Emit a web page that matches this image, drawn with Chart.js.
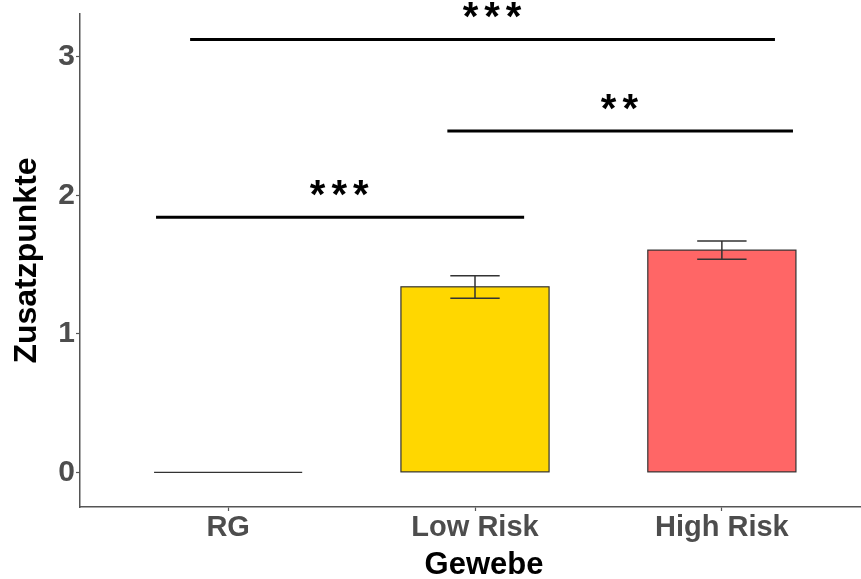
<!DOCTYPE html>
<html>
<head>
<meta charset="utf-8">
<script src="https://cdn.jsdelivr.net/npm/chart.js@4/dist/chart.umd.min.js"></script>
<style>
  html, body { margin: 0; padding: 0; background: #fff; overflow: hidden; }
  #wrap { width: 880px; height: 579px; }
</style>
</head>
<body>
<div id="wrap"><canvas id="chart"></canvas></div>
<script>
  // Data
  const categories = ['RG', 'Low Risk', 'High Risk'];
  const means = [0, 1.34, 1.605];
  const errLow = [null, 1.257, 1.539];
  const errHigh = [null, 1.42, 1.671];
  const barColors = ['#F8766D', '#FFD700', '#FF6666'];

  // significance brackets (x in category units)
  const sigY = [3.126, 2.466, 1.843];
  const sigFrom = [-0.154, 0.888, -0.292];
  const sigTo = [2.215, 2.288, 1.199];
  const sigTextX = [1.069, 1.585, 0.45];
  const sigLabels = ['***', '**', '***'];

  const yTicks = [0, 1, 2, 3];

  const FONT = '"Liberation Sans", Arial, Helvetica, sans-serif';

  const overlay = {
    id: 'overlay',
    afterDatasetsDraw(chart) {
      const { ctx, chartArea, scales: { x, y } } = chart;
      const meta = chart.getDatasetMeta(0);
      ctx.save();

      // bar outlines (also draws the flat RG bar)
      ctx.strokeStyle = '#333333';
      ctx.lineWidth = 1.2;
      meta.data.forEach(bar => {
        const p = bar.getProps(['x', 'y', 'base', 'width'], true);
        ctx.strokeRect(p.x - p.width / 2, Math.min(p.y, p.base), p.width, Math.abs(p.base - p.y));
      });

      // error bars
      ctx.lineWidth = 1.5;
      categories.forEach((c, i) => {
        if (errLow[i] == null) return;
        const cx = x.getPixelForValue(i);
        const x1 = x.getPixelForValue(i - 0.1);
        const x2 = x.getPixelForValue(i + 0.1);
        const yl = y.getPixelForValue(errLow[i]);
        const yh = y.getPixelForValue(errHigh[i]);
        ctx.beginPath();
        ctx.moveTo(cx, yl); ctx.lineTo(cx, yh);
        ctx.moveTo(x1, yl); ctx.lineTo(x2, yl);
        ctx.moveTo(x1, yh); ctx.lineTo(x2, yh);
        ctx.stroke();
      });

      // significance brackets
      ctx.strokeStyle = '#000';
      ctx.fillStyle = '#000';
      ctx.lineWidth = 3;
      ctx.font = 'bold 40px ' + FONT;
      ctx.letterSpacing = '6px';
      ctx.textAlign = 'center';
      ctx.textBaseline = 'alphabetic';
      sigY.forEach((v, i) => {
        const py = y.getPixelForValue(v);
        ctx.beginPath();
        ctx.moveTo(x.getPixelForValue(sigFrom[i]), py);
        ctx.lineTo(x.getPixelForValue(sigTo[i]), py);
        ctx.stroke();
        ctx.fillText(sigLabels[i], x.getPixelForValue(sigTextX[i]) + 3, py - 9);
      });

      // x axis title
      ctx.letterSpacing = '0px';
      ctx.font = 'bold 31px ' + FONT;
      ctx.fillText('Gewebe', (chartArea.left + chartArea.right) / 2 + 9, 574);
      ctx.restore();
    }
  };

  new Chart(document.getElementById('chart'), {
    type: 'bar',
    data: {
      datasets: [{
        data: categories.map((c, i) => ({ x: i, y: means[i] })),
        backgroundColor: barColors,
        borderWidth: 0,
        categoryPercentage: 1,
        barPercentage: 0.6
      }]
    },
    options: {
      responsive: true,
      maintainAspectRatio: false,
      animation: false,
      layout: { padding: { top: 14, right: 10, left: 0, bottom: 0 } },
      plugins: { legend: { display: false }, tooltip: { enabled: false } },
      scales: {
        x: {
          type: 'linear',
          min: -0.6,
          max: 2.6,
          offset: false,
          afterFit: s => { s.height = 72; s.paddingLeft = 0; s.paddingRight = 0; },
          afterBuildTicks: s => { s.ticks = categories.map((c, i) => ({ value: i })); },
          grid: { offset: false, drawOnChartArea: false, tickLength: 4, tickColor: '#555', tickWidth: 1.2 },
          border: { color: '#555', width: 1.5 },
          ticks: {
            callback: v => categories[v],
            color: '#4D4D4D',
            padding: 0,
            maxRotation: 0,
            autoSkip: false,
            font: { family: FONT, size: 29, weight: 'bold' }
          },
          title: { display: false }
        },
        y: {
          min: -0.25,
          max: 3.31,
          afterFit: s => { s.width = 80; s.paddingTop = 0; s.paddingBottom = 0; },
          afterBuildTicks: s => { s.ticks = yTicks.map(v => ({ value: v })); },
          grid: { drawOnChartArea: false, tickLength: 4, tickColor: '#555', tickWidth: 1.2 },
          border: { color: '#555', width: 1.5 },
          ticks: {
            color: '#4D4D4D',
            padding: 1,
            font: { family: FONT, size: 30, weight: 'bold' }
          },
          title: {
            display: true,
            text: 'Zusatzpunkte',
            color: '#000',
            padding: { top: 8, bottom: 0 },
            font: { family: FONT, size: 32, weight: 'bold' }
          }
        }
      }
    },
    plugins: [overlay]
  });
</script>
</body>
</html>
